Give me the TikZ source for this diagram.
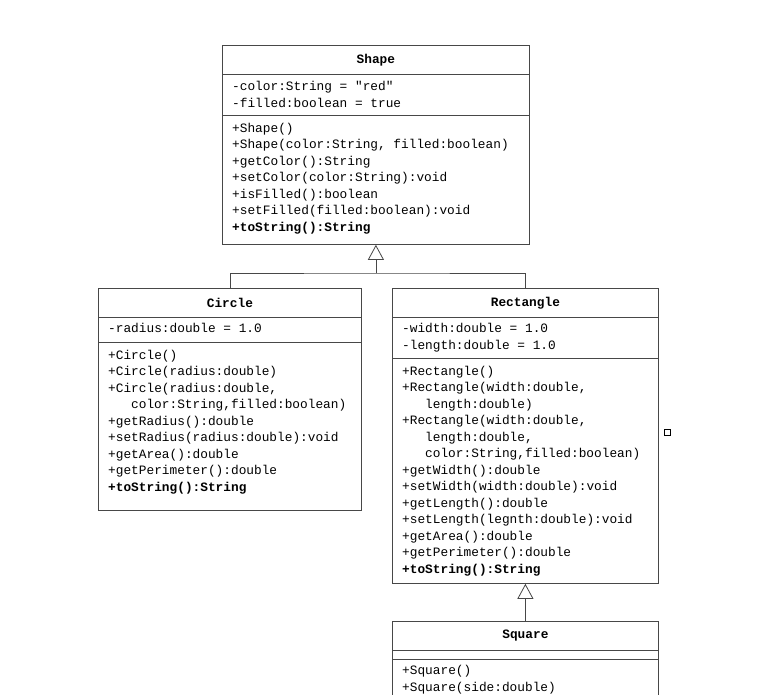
\documentclass[tikz,border=0pt]{standalone}
\usepackage{fontspec}
\newfontfamily\umlmono{Liberation Mono}
\usetikzlibrary{arrows.meta,positioning,calc}
\newcommand{\umltext}{\umlmono\fontsize{12.8pt}{16.5pt}\selectfont}
\newcommand{\umlhead}{\umlmono\bfseries\fontsize{12.8pt}{16.5pt}\selectfont}
\newcommand{\contind}{\hspace*{23pt}}

\tikzset{
  umlline/.style={draw=black!72, line width=0.8pt},
  classtitle/.style={umlline, anchor=north west, inner sep=0pt, font=\umlhead},
  compart/.style={umlline, anchor=north west, inner sep=0pt},
  members/.style={anchor=north west, inner sep=0pt, align=left, font=\umltext,
    execute at begin node={\strut\spaceskip=7.68pt\xspaceskip=7.68pt\relax}},
  inherits/.style={umlline, -{Triangle[open, length=15pt, width=16pt]}},
}

\begin{document}
\begin{tikzpicture}[x=1pt, y=-1pt]
	\fill[white] (0,0) rectangle (758,694);
	\clip (0,0) rectangle (758,694);
	
	% Shape
	\node[classtitle, minimum width=307pt, minimum height=29pt] (shape-title) at (222,45) {Shape};
	\node[compart, minimum width=307pt, minimum height=41pt] (shape-attr) at (222,74) {};
	\node[compart, minimum width=307pt, minimum height=129pt] (shape-ops) at (222,115) {};
	\node[members, text width=287pt] (shape-attr-txt) at ([shift={(10,5)}]shape-attr.north west)
		{-color:String = "red"\\ -filled:boolean = true};
	\node[members, text width=287pt] (shape-ops-txt) at ([shift={(10,5.5)}]shape-ops.north west)
		{+Shape()\\ +Shape(color:String, filled:boolean)\\ +getColor():String\\
		 +setColor(color:String):void\\ +isFilled():boolean\\
		 +setFilled(filled:boolean):void\\ \textbf{+toString():String}};
	
	% Circle
	\node[classtitle, minimum width=263pt, minimum height=29pt] (circle-title) at (98,288) {Circle};
	\node[compart, minimum width=263pt, minimum height=25pt] (circle-attr) at (98,317) {};
	\node[compart, minimum width=263pt, minimum height=168pt] (circle-ops) at (98,342) {};
	\node[members, text width=243pt] (circle-attr-txt) at ([shift={(10,4)}]circle-attr.north west)
		{-radius:double = 1.0};
	\node[members, text width=243pt] (circle-ops-txt) at ([shift={(10,5.5)}]circle-ops.north west)
		{+Circle()\\ +Circle(radius:double)\\ +Circle(radius:double,\\
		 \contind color:String,filled:boolean)\\ +getRadius():double\\
		 +setRadius(radius:double):void\\ +getArea():double\\
		 +getPerimeter():double\\ \textbf{+toString():String}};
	
	% Rectangle
	\node[classtitle, minimum width=266pt, minimum height=29pt] (rect-title) at (392,288) {Rectangle};
	\node[compart, minimum width=266pt, minimum height=41pt] (rect-attr) at (392,317) {};
	\node[compart, minimum width=266pt, minimum height=225pt] (rect-ops) at (392,358) {};
	\node[members, text width=246pt] (rect-attr-txt) at ([shift={(10,4)}]rect-attr.north west)
		{-width:double = 1.0\\ -length:double = 1.0};
	\node[members, text width=246pt] (rect-ops-txt) at ([shift={(10,5.5)}]rect-ops.north west)
		{+Rectangle()\\ +Rectangle(width:double,\\ \contind length:double)\\
		 +Rectangle(width:double,\\ \contind length:double,\\
		 \contind color:String,filled:boolean)\\ +getWidth():double\\
		 +setWidth(width:double):void\\ +getLength():double\\
		 +setLength(legnth:double):void\\ +getArea():double\\
		 +getPerimeter():double\\ \textbf{+toString():String}};
	
	% Square
	\node[classtitle, minimum width=266pt, minimum height=29pt] (square-title) at (392,621) {Square};
	\node[compart, minimum width=266pt, minimum height=9pt] (square-attr) at (392,650) {};
	\node[compart, minimum width=266pt, minimum height=100pt] (square-ops) at (392,659) {};
	\node[members, text width=246pt] (square-ops-txt) at ([shift={(10,4)}]square-ops.north west)
		{+Square()\\ +Square(side:double)};
	
	% generalisation
	\coordinate (branch) at (shape-ops.south |- 0,273);
	\draw[inherits] (branch) -- (shape-ops.south);
	\draw[umlline] (circle-title.north) |- (branch) -| (rect-title.north);
	\draw[inherits] (square-title.north) -- (rect-ops.south);
	
	\draw[black, line width=0.8pt] (664,429) rectangle (670,435);
\end{tikzpicture}
\end{document}
